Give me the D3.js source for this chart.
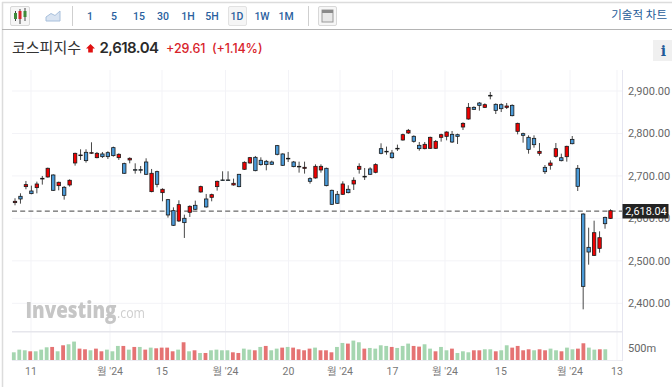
<!DOCTYPE html>
<html><head><meta charset="utf-8">
<script src="https://cdn.jsdelivr.net/npm/d3@7"></script>
<style>html,body{margin:0;padding:0;background:#fff;overflow:hidden}svg{display:block}
text{font-family:Roboto,"Noto Sans CJK KR",sans-serif}</style></head><body><svg id="c" width="672" height="387"></svg>
<script>
const opens=[2637.1,2652,2674.8,2664.5,2672.4,2694.4,2697.5,2702.2,2677.1,2673.2,2678.7,2730.5,2747.8,2755.6,2754,2743,2751.7,2754.8,2766.6,2743,2728.9,2737.6,2714.8,2714.8,2732.8,2663,2710.1,2660.6,2644.1,2618.2,2593.9,2600.2,2614.3,2630.8,2662.2,2645.7,2649.6,2674.8,2690.5,2690.5,2678.7,2703.8,2715.6,2730.5,2743.8,2736.8,2734.4,2732.8,2771.3,2751.7,2741.5,2732.8,2722.6,2717.9,2693.6,2695.2,2714,2717.9,2666.1,2656.7,2656.7,2668.5,2681,2715.6,2699.1,2716.4,2708.5,2764.2,2758,2754,2765,2784.6,2801.1,2793.3,2772.1,2764.2,2765,2765,2790.9,2793.2,2797.9,2797.1,2815.2,2834,2861.5,2871.7,2861.5,2889.8,2868.6,2867.8,2861.5,2866.2,2805,2799.5,2790.9,2788.5,2753.2,2720.2,2724.9,2746.1,2742.9,2745.3,2786.1,2717.9,2610.3,2531.8,2512.9,2529.4,2602.4,2600];
const highs=[2647.3,2659.1,2688.1,2677.1,2686.5,2699.9,2719.5,2703.8,2686.5,2676.3,2692,2754.8,2762.7,2762.7,2779.2,2756.4,2756.4,2758,2769,2753.2,2731.3,2743.8,2729.7,2723.4,2741.5,2716.4,2712.4,2670.8,2645.7,2626,2642.6,2608.8,2630.8,2641.8,2677.1,2657.5,2658.3,2688.9,2710.9,2710.9,2693.6,2704.6,2734.4,2744.6,2747,2743.8,2737.6,2736,2772.9,2753.2,2756.4,2735.2,2733.6,2733.6,2696.7,2727.3,2727.3,2719.5,2667.7,2664.5,2687.3,2677.9,2696.7,2729.7,2718.7,2720.3,2729.7,2776.8,2769,2761.1,2773.7,2799.6,2810.6,2795.6,2779.9,2779.9,2792.4,2784.6,2799.5,2805,2805.8,2799.5,2826.2,2871.7,2863.9,2874.1,2870.9,2897.6,2870.9,2870.9,2871.7,2868.6,2825.4,2801.8,2795.6,2795.6,2777.5,2725.7,2736.7,2777.5,2752.4,2771.2,2794,2725.7,2611.8,2578.1,2594.6,2569.5,2604,2621.3];
const lows=[2630.8,2634.7,2668.5,2656.7,2659,2679.5,2696,2664.5,2666.1,2644.1,2674.8,2724.2,2737.6,2731.3,2751.7,2741.5,2742.3,2739.9,2745.4,2737.6,2704.6,2729.7,2705.4,2706.2,2702.2,2661.4,2673.2,2640.2,2601.8,2582.1,2591.5,2553.9,2603.3,2619.8,2660.6,2625.3,2640.2,2665.3,2688.1,2688.9,2677.1,2673.2,2714,2728.9,2710.9,2724.2,2713.2,2725.8,2748.5,2723.4,2732.8,2720.3,2707.7,2705.4,2681.8,2693.6,2707.7,2675.5,2631.6,2633.9,2655.1,2659,2666.9,2705.4,2690.5,2702.2,2706.2,2750.9,2750.1,2740.7,2758.7,2783.1,2798.8,2778.4,2759.5,2762.7,2763.4,2763.4,2780.7,2783.8,2777.5,2775.2,2808.1,2832.5,2855.2,2853.7,2859.9,2880.4,2845.8,2850.5,2857.6,2840.3,2797.9,2778.3,2752.4,2766.5,2747.7,2704.5,2714.7,2743,2734.3,2733.6,2774.4,2664.5,2385.8,2491,2511.4,2519.2,2575.7,2598.5];
const closes=[2640.2,2645.7,2679.5,2658.3,2681,2692.8,2718,2666.1,2685,2654.3,2689.7,2753.2,2749.3,2736,2754.8,2753.2,2745.4,2745.4,2747.8,2750.9,2706.2,2741.5,2714,2714,2703.8,2706.2,2680.2,2668.5,2608,2583.7,2632.4,2590,2628.4,2621.4,2674.8,2626.9,2655.9,2687.3,2689.7,2689.7,2682.6,2674.8,2732,2743,2712.4,2726.6,2726.6,2727.3,2750.9,2725,2740.7,2721.9,2721.9,2720.3,2687.3,2722.6,2722.6,2677.1,2633.1,2635.5,2681,2660.6,2689.7,2722.6,2697.5,2703.8,2726.6,2753.2,2757.2,2743,2764.2,2797.2,2807.4,2781.5,2764.2,2774.4,2790.9,2781.4,2797.1,2803.4,2779.9,2793.2,2823.8,2861.5,2856.8,2866.2,2867.8,2888.2,2854.4,2858.4,2864.6,2841.9,2823.8,2795.6,2762.6,2773.6,2757.9,2710,2730.4,2764.2,2735.9,2769.7,2775.9,2675.5,2439.9,2520.8,2566.3,2554.5,2587.5,2618.04];
const volumes=[329,443,415,372,372,443,543,558,372,629,672,787,486,458,415,486,372,443,372,601,601,443,558,558,443,529,500,529,529,372,443,758,372,415,300,300,415,443,415,415,329,300,486,443,415,558,601,415,486,529,558,529,458,415,486,529,415,415,329,558,729,701,829,758,486,515,486,629,601,558,515,601,701,601,572,672,486,372,558,415,486,300,372,329,415,415,458,458,372,415,629,529,601,415,458,415,458,415,486,415,372,529,458,486,715,529,443,458,458];
const volumeUp=[0,0,0,1,0,0,0,1,0,1,0,0,1,1,0,1,1,0,0,0,1,0,1,0,1,0,1,1,1,1,0,1,0,1,0,1,0,0,0,0,1,1,0,0,1,0,1,0,0,1,0,1,1,1,1,0,1,1,1,0,0,1,0,0,1,0,0,0,0,1,0,0,0,1,1,0,0,1,0,0,1,0,0,0,1,1,0,0,1,0,0,1,1,1,1,0,1,1,0,0,1,0,0,1,1,0,0,1,0];
const timeTicks=[["11",31],["월 '24",110],["15",162],["월 '24",225.5],["20",288.5],["월 '24",340],["17",392.5],["월 '24",445],["15",501],["월 '24",570],["13",617]];
const priceTicks=[2400,2500,2600,2700,2800,2900];
const volumeTicks=[500];
const lastPrice=2618.04;
const intervals=["1","5","15","30","1H","5H","1D","1W","1M"];
const svg=d3.select("#c");
const xs=d3.scaleLinear().domain([0,109]).range([15,610.5]);
const xv=d3.scaleLinear().domain([0,108]).range([13.8,605.3]);
const y=d3.scaleLinear().domain([2400,2900]).range([303.3,91]);
const yv=d3.scaleLinear().domain([0,500]).range([360,348.3]);
const fmt=d3.format(",.2f");
// frame
svg.append("rect").attr("x",0).attr("y",0).attr("width",672).attr("height",387).attr("fill","#fff");
svg.append("line").attr("x1",2.5).attr("x2",2.5).attr("y1",2).attr("y2",387).attr("stroke","#dcdcdc").attr("stroke-width",1.5);
svg.append("line").attr("x1",2).attr("x2",672).attr("y1",2.5).attr("y2",2.5).attr("stroke","#dcdcdc").attr("stroke-width",1.5);
svg.append("line").attr("x1",2).attr("x2",672).attr("y1",29.5).attr("y2",29.5).attr("stroke","#b4b4b4").attr("stroke-width",1.2);
// toolbar
svg.append("rect").attr("x",10.5).attr("y",6.5).attr("width",19).attr("height",19).attr("rx",1.5).attr("fill","#f6f6f6").attr("stroke","#d8d8d8");
[[15.5,11,21,"#3f8a3a",13,19],[20,9,24,"#d8232a",11,19],[25,8,21,"#3f8a3a",11,17]].forEach(d=>{
 const g=svg.append("g");
 g.append("line").attr("x1",d[0]).attr("x2",d[0]).attr("y1",d[1]).attr("y2",d[2]).attr("stroke","#444");
 g.append("rect").attr("x",d[0]-1.5).attr("y",d[4]).attr("width",3).attr("height",d[5]-d[4]).attr("fill",d[3]);
});
svg.append("path").attr("d","M46 21 V17 L51 13.5 L55 15.5 L60 11 V21 Z").attr("fill","#d9e4f2").attr("stroke","#a8c0dc");
svg.append("line").attr("x1",72.5).attr("x2",72.5).attr("y1",6).attr("y2",26).attr("stroke","#cfcfcf");
svg.append("rect").attr("x",228.5).attr("y",6.5).attr("width",18).attr("height",19).attr("rx",1.5).attr("fill","#f5f5f5").attr("stroke","#e2e2e2");
const ix=[90,114,139,163,188,212,237,262,286];
svg.selectAll("text.iv").data(intervals).join("text").attr("class","iv").attr("x",(d,i)=>ix[i]).attr("y",19.5).attr("text-anchor","middle").attr("font-size",10.5).attr("font-weight",500).attr("fill","#2a5f9e").text(d=>d);
svg.append("line").attr("x1",308.5).attr("x2",308.5).attr("y1",6).attr("y2",26).attr("stroke","#cfcfcf");
svg.append("rect").attr("x",318.5).attr("y",6.5).attr("width",18).attr("height",19).attr("rx",1.5).attr("fill","#f6f6f6").attr("stroke","#d8d8d8");
svg.append("rect").attr("x",322).attr("y",10).attr("width",11).attr("height",12).attr("fill","#e8e8e8").attr("stroke","#9a9a9a");
svg.append("rect").attr("x",322).attr("y",10).attr("width",11).attr("height",3).attr("fill","#8a8a8a");
svg.append("text").attr("x",667).attr("y",19).attr("text-anchor","end").attr("font-size",11.5).attr("fill","#1f5c99").text("기술적 차트");
// header
svg.append("text").attr("x",12).attr("y",53).attr("font-size",15).attr("fill","#333").text("코스피지수");
svg.append("path").attr("d","M90.5 44 L95 48.5 H92.8 V52.5 H88.2 V48.5 H86 Z").attr("fill","#e01010");
svg.append("text").attr("x",99.5).attr("y",53.2).attr("font-size",15).attr("font-weight",600).attr("fill","#2a2a2a").style("font-family","Inter").attr("textLength",59.5).text("2,618.04");
svg.append("text").attr("x",166).attr("y",52.5).attr("font-size",12.5).attr("font-weight",500).attr("fill","#d8232a").style("font-family","Inter").attr("textLength",39.5).text("+29.61");
svg.append("text").attr("x",212).attr("y",52.5).attr("font-size",12.5).attr("font-weight",500).attr("fill","#d8232a").style("font-family","Inter").attr("textLength",50.5).text("(+1.14%)");
svg.append("rect").attr("x",653).attr("y",40).attr("width",19).attr("height",21).attr("fill","#f0f0f0");
svg.append("text").attr("x",663.5).attr("y",56).attr("text-anchor","middle").attr("font-size",14).attr("font-weight",700).attr("fill","#1f5c99").style("font-family","'DejaVu Serif'").text("i");
// grids
const G=svg.append("g");
G.selectAll("line.h").data(priceTicks).join("line").attr("x1",12).attr("x2",622).attr("y1",d=>y(d)).attr("y2",d=>y(d)).attr("stroke","#f3f3f7");
G.selectAll("line.v").data(timeTicks).join("line").attr("x1",d=>d[1]).attr("x2",d=>d[1]).attr("y1",70).attr("y2",360).attr("stroke","#f3f3f7");
G.append("line").attr("x1",12).attr("x2",622).attr("y1",331.8).attr("y2",331.8).attr("stroke","#e6e6ec").attr("stroke-width",1.6);
G.append("line").attr("x1",12).attr("x2",622).attr("y1",360.5).attr("y2",360.5).attr("stroke","#ececf2");
G.append("line").attr("x1",622.5).attr("x2",622.5).attr("y1",70).attr("y2",361).attr("stroke","#e6e6f0");
// watermark
svg.append("text").attr("x",25.5).attr("y",317.8).attr("font-size",22.5).attr("font-weight",800).attr("fill","#c6c6c6").style("font-family","'Open Sans'").style("filter","blur(0.5px)").attr("textLength",91).attr("lengthAdjust","spacingAndGlyphs").text("Investing");
svg.append("text").attr("x",117).attr("y",317.8).attr("font-size",14).attr("fill","#cfcfcf").style("font-family","'Open Sans'").style("filter","blur(0.4px)").attr("textLength",28).attr("lengthAdjust","spacingAndGlyphs").text(".com");
// volume
svg.append("g").selectAll("rect").data(volumes).join("rect")
 .attr("x",(d,i)=>xv(i)-1.9).attr("width",3.8).attr("y",d=>yv(d)).attr("height",d=>yv(0)-yv(d))
 .attr("fill",(d,i)=>volumeUp[i]?"#e57373":"#a5d6b0");
// last price line
svg.append("line").attr("x1",12).attr("x2",622).attr("y1",y(lastPrice)+.4).attr("y2",y(lastPrice)+.4).attr("stroke","#444").attr("stroke-dasharray","5 3.2");
// candles
const C=svg.append("g").selectAll("g").data(closes).join("g");
C.append("line").attr("x1",(d,i)=>xs(i)).attr("x2",(d,i)=>xs(i)).attr("y1",(d,i)=>y(highs[i])).attr("y2",(d,i)=>y(lows[i])).attr("stroke","#333").attr("stroke-width",.9);
C.append("rect").attr("x",(d,i)=>xs(i)-1.7).attr("width",3.4)
 .attr("y",(d,i)=>y(Math.max(opens[i],closes[i])))
 .attr("height",(d,i)=>Math.max(.6,Math.abs(y(opens[i])-y(closes[i]))))
 .attr("fill",(d,i)=>closes[i]>=opens[i]?"#f00000":"#4a9ad8").attr("stroke","#1a1a1a").attr("stroke-width",.8);
// axes
const ax=svg.append("g").attr("transform","translate(622,0)").call(d3.axisRight(y).tickValues(priceTicks).tickSize(0).tickPadding(6).tickFormat(fmt));
ax.select(".domain").remove();ax.selectAll("text").attr("font-size",11).attr("fill","#666").style("font-family","Roboto");
const av=svg.append("g").attr("transform","translate(622,0)").call(d3.axisRight(yv).tickValues(volumeTicks).tickSize(0).tickPadding(6).tickFormat(d=>d+"m"));
av.select(".domain").remove();av.selectAll("text").attr("font-size",11).attr("fill","#666").style("font-family","Roboto");
svg.selectAll("text.tt").data(timeTicks).join("text").attr("class","tt").attr("x",d=>d[1]).attr("y",375).attr("text-anchor","middle").attr("font-size",10.5).attr("fill","#777").text(d=>d[0]);
// last label
svg.append("rect").attr("x",622.5).attr("y",204).attr("width",46).attr("height",14.5).attr("fill","#232323");
svg.append("text").attr("x",646).attr("y",215.2).attr("text-anchor","middle").attr("font-size",10.8).attr("fill","#fff").text(fmt(lastPrice));
</script></body></html>
